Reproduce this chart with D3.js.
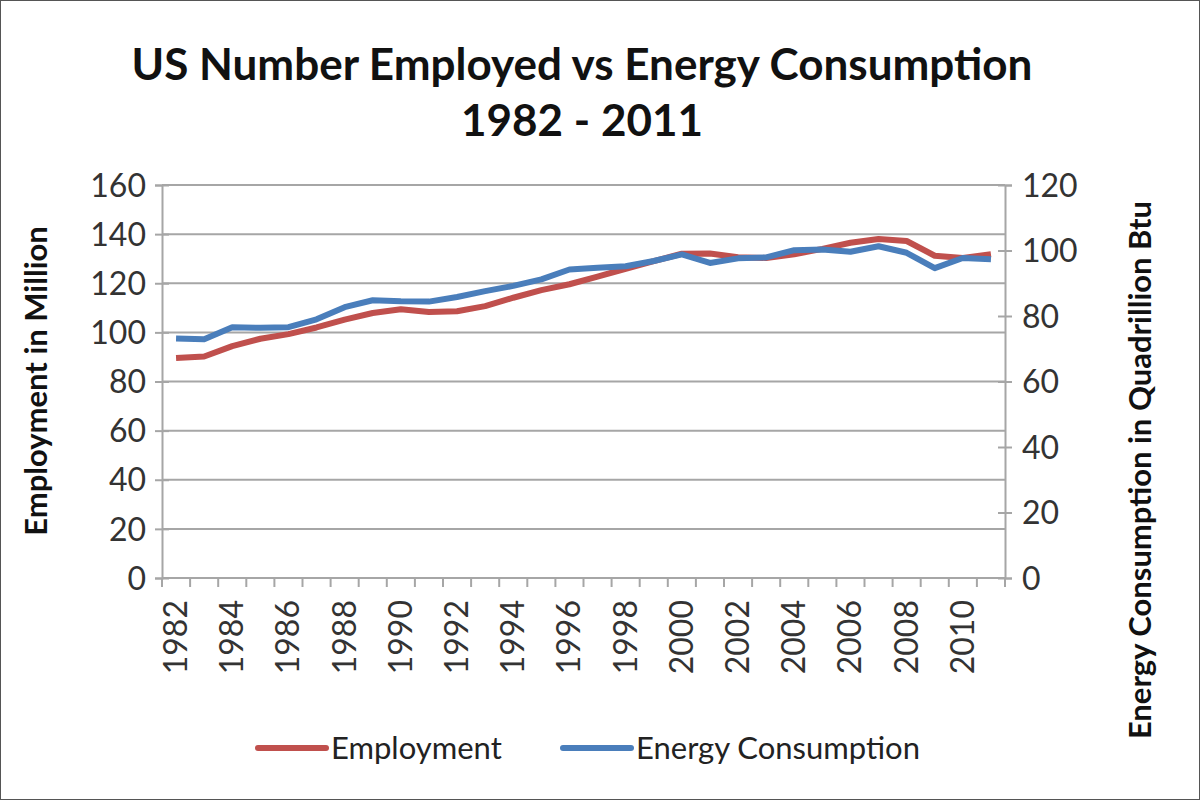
<!DOCTYPE html>
<html>
<head>
<meta charset="utf-8">
<script src="https://cdn.jsdelivr.net/npm/d3@7"></script>
<style>
  body { margin: 0; background: #fff; }
  svg { display: block; }
  .tick text { font-family: Lato, "Open Sans", sans-serif; fill: #333; }
</style>
</head>
<body>
<svg id="chart" width="1200" height="800"></svg>
<script>
// data
const years = d3.range(1982, 2012);
const employment = [89.6, 90.2, 94.4, 97.4, 99.3, 102.0, 105.2, 107.9, 109.4, 108.3,
  108.6, 110.7, 114.1, 117.2, 119.6, 122.7, 125.9, 129.0, 132.0, 132.1,
  130.6, 130.3, 131.8, 134.0, 136.5, 138.0, 137.2, 131.2, 130.3, 131.8];
const energy = [73.1, 72.9, 76.6, 76.4, 76.6, 79.0, 82.7, 84.8, 84.5, 84.4,
  85.8, 87.6, 89.2, 91.2, 94.2, 94.7, 95.2, 96.8, 98.8, 96.2,
  97.6, 97.9, 100.1, 100.3, 99.6, 101.3, 99.3, 94.6, 97.7, 97.3];
const leftTicks = [0, 20, 40, 60, 80, 100, 120, 140, 160];
const rightTicks = [0, 20, 40, 60, 80, 100, 120];
const yearLabels = years.filter(y => (y - 1982) % 2 === 0);

const svg = d3.select("#chart");
const m = { left: 162, right: 1005, top: 185, bottom: 578 };
const red = "#c0504d", blue = "#4a7ebb", grid = "#a6a6a6";
const font = "Lato, 'Open Sans', sans-serif";

svg.append("rect").attr("x", 0.5).attr("y", 0.5).attr("width", 1199).attr("height", 799)
  .attr("fill", "#fff").attr("stroke", "#555").attr("stroke-width", 1);

const x = d3.scaleBand().domain(years).range([m.left, m.right]);
const yL = d3.scaleLinear().domain([0, 160]).range([m.bottom, m.top]);
const yR = d3.scaleLinear().domain([0, 120]).range([m.bottom, m.top]);

// gridlines
svg.append("g").selectAll("line").data(leftTicks.slice(1)).join("line")
  .attr("x1", m.left).attr("x2", m.right)
  .attr("y1", d => yL(d)).attr("y2", d => yL(d))
  .attr("stroke", grid).attr("stroke-width", 2);

// left axis
const gL = svg.append("g").attr("transform", `translate(${m.left},0)`)
  .call(d3.axisLeft(yL).tickValues(leftTicks).tickSize(7).tickPadding(9));
gL.selectAll("text").style("font-size", "32px").attr("dy", "0.35em");

// right axis
const gR = svg.append("g").attr("transform", `translate(${m.right},0)`)
  .call(d3.axisRight(yR).tickValues(rightTicks).tickSize(7).tickPadding(10));
gR.selectAll("text").style("font-size", "32px").attr("dy", "0.35em");

// x axis: ticks between categories
const gX = svg.append("g").attr("transform", `translate(0,${m.bottom})`);
gX.append("line").attr("x1", m.left).attr("x2", m.right).attr("stroke", grid).attr("stroke-width", 2);
gX.selectAll("line.t").data(years.concat([2012])).join("line").attr("class", "t")
  .attr("x1", d => d === 2012 ? m.right : x(d)).attr("x2", d => d === 2012 ? m.right : x(d))
  .attr("y1", 0).attr("y2", 9).attr("stroke", grid).attr("stroke-width", 2);
gX.selectAll("text").data(yearLabels).join("text")
  .attr("transform", d => `translate(${x(d) + x.bandwidth() / 2 + 11},22) rotate(-90)`)
  .attr("text-anchor", "end")
  .style("font-family", font).style("font-size", "32px").style("fill", "#333")
  .text(d => d);

[gL, gR].forEach(g => {
  g.select(".domain").attr("stroke", grid).attr("stroke-width", 2);
  g.selectAll(".tick line").attr("stroke", grid).attr("stroke-width", 2);
});
gL.selectAll(".tick line").attr("x2", 7).attr("x1", -7);
gR.selectAll(".tick line").attr("x1", -7).attr("x2", 7);

// lines
const cx = d => x(d) + x.bandwidth() / 2;
const lineL = d3.line().x((d, i) => cx(years[i])).y(d => yL(d));
const lineR = d3.line().x((d, i) => cx(years[i])).y(d => yR(d));
svg.append("path").datum(employment).attr("d", lineL)
  .attr("fill", "none").attr("stroke", red).attr("stroke-width", 6).attr("stroke-linejoin", "round");
svg.append("path").datum(energy).attr("d", lineR)
  .attr("fill", "none").attr("stroke", blue).attr("stroke-width", 6).attr("stroke-linejoin", "round");

// titles
const title = svg.append("text").attr("text-anchor", "middle")
  .style("font-family", font).style("font-weight", "bold")
  .style("font-size", "44px").style("fill", "#111");
title.append("tspan").attr("x", 582).attr("y", 80).text("US Number Employed vs Energy Consumption");
title.append("tspan").attr("x", 582).attr("y", 136).text("1982 - 2011");

svg.append("text").attr("transform", "translate(47,381) rotate(-90)").attr("text-anchor", "middle")
  .style("font-family", font).style("font-weight", "bold")
  .style("font-size", "31px").style("fill", "#111").text("Employment in Million");
svg.append("text").attr("transform", "translate(1151,470) rotate(-90)").attr("text-anchor", "middle")
  .style("font-family", font).style("font-weight", "bold")
  .style("font-size", "31px").style("fill", "#111").text("Energy Consumption in Quadrillion Btu");

// legend
const legend = [{ name: "Employment", color: red, x: 258 }, { name: "Energy Consumption", color: blue, x: 563 }];
const lg = svg.append("g").selectAll("g").data(legend).join("g")
  .attr("transform", d => `translate(${d.x},748)`);
lg.append("line").attr("x1", 0).attr("x2", 68).attr("stroke", d => d.color)
  .attr("stroke-width", 6).attr("stroke-linecap", "round");
lg.append("text").attr("x", 73).attr("dy", "0.35em")
  .style("font-family", font).style("font-size", "31px").style("fill", "#222")
  .text(d => d.name);
</script>
</body>
</html>
